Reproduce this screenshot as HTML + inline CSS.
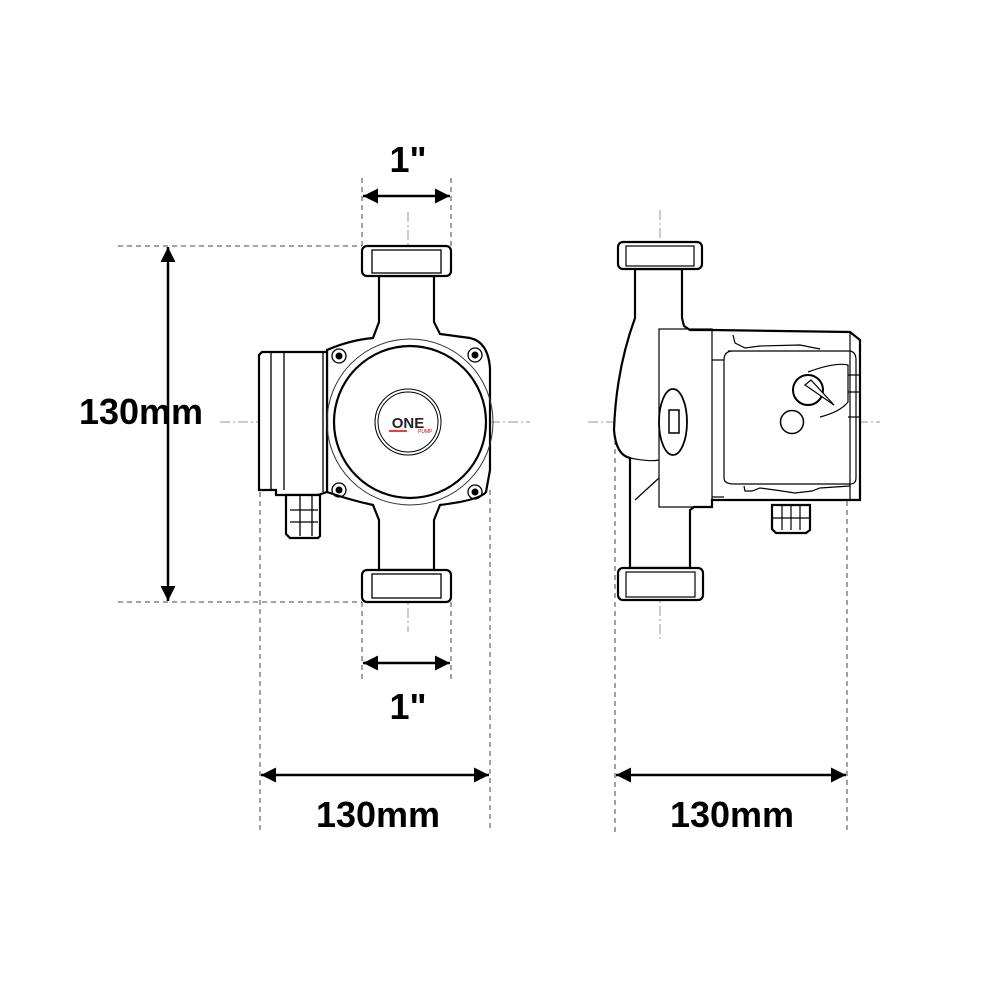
<!DOCTYPE html>
<html><head><style>html,body{margin:0;padding:0;background:#fff}svg{display:block}</style></head>
<body>
<svg width="1000" height="1000" viewBox="0 0 1000 1000" xmlns="http://www.w3.org/2000/svg">
<defs>
<marker id="ah" viewBox="0 0 10 10" refX="10" refY="5" markerWidth="9" markerHeight="6" orient="auto-start-reverse" markerUnits="strokeWidth"><path d="M0,0 L10,5 L0,10 Z" fill="#000"/></marker>
</defs>
<g fill="none" stroke="#444" stroke-width="1" stroke-dasharray="5,4">
<line x1="118" y1="246" x2="362" y2="246"/>
<line x1="118" y1="602" x2="362" y2="602"/>
<line x1="362" y1="178" x2="362" y2="246"/>
<line x1="451" y1="178" x2="451" y2="246"/>
<line x1="362" y1="602" x2="362" y2="680"/>
<line x1="451" y1="602" x2="451" y2="680"/>
<line x1="260" y1="492" x2="260" y2="832"/>
<line x1="490" y1="490" x2="490" y2="832"/>
<line x1="615" y1="440" x2="615" y2="832"/>
<line x1="847" y1="420" x2="847" y2="832"/>
</g>
<g fill="none" stroke="#999" stroke-width="1" stroke-dasharray="10,3,2,3">
<line x1="220" y1="422" x2="530" y2="422"/>
<line x1="408" y1="212" x2="408" y2="632"/>
<line x1="588" y1="422" x2="880" y2="422"/>
<line x1="660" y1="210" x2="660" y2="640"/>
</g>
<g stroke="#000" stroke-width="2.5" fill="none">
<line x1="168" y1="247" x2="168" y2="601" marker-start="url(#ah)" marker-end="url(#ah)"/>
<line x1="363" y1="196" x2="450" y2="196" marker-start="url(#ah)" marker-end="url(#ah)"/>
<line x1="363" y1="663" x2="450" y2="663" marker-start="url(#ah)" marker-end="url(#ah)"/>
<line x1="261" y1="775" x2="489" y2="775" marker-start="url(#ah)" marker-end="url(#ah)"/>
<line x1="616" y1="775" x2="846" y2="775" marker-start="url(#ah)" marker-end="url(#ah)"/>
</g>
<g font-family="Liberation Sans, sans-serif" font-weight="bold" font-size="36" fill="#000" text-anchor="middle">
<text x="141" y="424">130mm</text>
<text x="408" y="172">1"</text>
<text x="408" y="719">1"</text>
<text x="378" y="827">130mm</text>
<text x="732" y="827">130mm</text>
</g>
<!-- LEFT VIEW -->
<g stroke="#000" fill="#fff" stroke-width="2.2">
<path d="M379,276 L379,322 L373,338 Q350,340 327,350 L327,492 Q350,500 373,505 L379,520 L379,570 L434,570 L434,520 L440,505 Q480,500 486,492 L490,470 L490,368 Q488,342 470,338 L440,334 L434,322 L434,276 Z"/>
<rect x="362" y="246" width="89" height="30" rx="5"/>
<rect x="362" y="570" width="89" height="32" rx="5"/>
<path d="M262,352 L327,352 L327,492 L318,495 L276,495 L276,490 L259,490 L259,355 Z"/>
<path d="M286,495 L320,495 L320,536 L318,538 L290,538 L286,534 Z"/>
<circle cx="410" cy="422" r="76"/>
</g>
<g stroke="#000" fill="none" stroke-width="1.3">
<rect x="372" y="250" width="69" height="23"/>
<rect x="372" y="574" width="69" height="24"/>
<line x1="271" y1="353" x2="271" y2="490"/><line x1="284" y1="353" x2="284" y2="490"/>
<line x1="323" y1="353" x2="323" y2="492"/>
<line x1="290" y1="510" x2="318" y2="510"/><line x1="290" y1="522" x2="318" y2="522"/>
<line x1="300" y1="496" x2="300" y2="536"/><line x1="312" y1="496" x2="312" y2="536"/>
<circle cx="410" cy="422" r="83" stroke="#333" stroke-width="1"/>
<circle cx="408" cy="422" r="33" stroke-width="1"/>
<circle cx="408" cy="422" r="30" stroke-width="1"/>
<circle cx="339" cy="356" r="7"/><circle cx="475" cy="355" r="7"/>
<circle cx="339" cy="490" r="7"/><circle cx="475" cy="492" r="7"/>
</g>
<g fill="#000"><circle cx="339" cy="356" r="3.5"/><circle cx="475" cy="355" r="3.5"/><circle cx="339" cy="490" r="3.5"/><circle cx="475" cy="492" r="3.5"/></g>
<text x="408" y="428" font-family="Liberation Sans, sans-serif" font-weight="bold" font-size="15" text-anchor="middle" fill="#222">ONE</text>
<line x1="389" y1="431" x2="407" y2="431" stroke="#d00" stroke-width="1.5"/>
<text x="418" y="433" font-family="Liberation Sans, sans-serif" font-size="5" fill="#d00">PUMP</text>
<!-- RIGHT VIEW -->
<g stroke="#000" fill="#fff" stroke-width="2.2">
<path d="M635,269 L635,318 Q616,370 614,430 Q616,455 630,458 L630,568 L690,568 L690,510 L694,507 L712,507 L712,500 L860,500 L860,340 L850,332 L712,330 L690,330 L684,326 L682,318 L682,269 Z"/>
<rect x="618" y="242" width="84" height="27" rx="5"/>
<rect x="618" y="568" width="85" height="32" rx="5"/>
<path d="M772,505 L810,505 L810,530 L806,533 L776,533 L772,529 Z"/>
</g>
<g stroke="#000" fill="none" stroke-width="1.2">
<rect x="626" y="246" width="68" height="20"/>
<rect x="626" y="572" width="69" height="25"/>
<rect x="659" y="329" width="53" height="178"/>
<line x1="712" y1="360" x2="724" y2="360"/>
<line x1="712" y1="497" x2="724" y2="497"/>
<path d="M728,351 L850,351 Q856,352 856,360 L856,478 Q856,484 850,484 L734,484 Q724,484 724,478 L724,360 Q724,351 733,351 Z"/>
<path d="M733,335 L735,343 L745,348 L760,346 L800,345 L820,349"/>
<path d="M744,486 L745,491 L752,491 L760,488 L775,490 L795,493 L812,491 L820,488 L850,486"/>
<line x1="850" y1="332" x2="850" y2="500"/>
<path d="M630,458 Q650,462 659,460"/>
<line x1="635" y1="500" x2="659" y2="478"/>
<ellipse cx="673" cy="422" rx="14" ry="33" stroke-width="1.8"/>
<rect x="669" y="410" width="10" height="23" stroke-width="1.5"/>
<path d="M808,372 Q835,362 848,365 L848,402 Q840,412 820,417"/>
<line x1="848" y1="375" x2="860" y2="375"/><line x1="848" y1="392" x2="860" y2="392"/><line x1="848" y1="417" x2="860" y2="417"/>
<circle cx="808" cy="390" r="15" stroke-width="2"/>
<path d="M805,385 L811,380 L834,405 Z" fill="#fff"/>
<circle cx="792" cy="422" r="11.5" stroke-width="1.5"/>
<line x1="782" y1="505" x2="782" y2="530"/><line x1="791" y1="505" x2="791" y2="530"/><line x1="800" y1="505" x2="800" y2="530"/>
<line x1="772" y1="518" x2="810" y2="518"/>
</g>
</svg>
</body></html>
